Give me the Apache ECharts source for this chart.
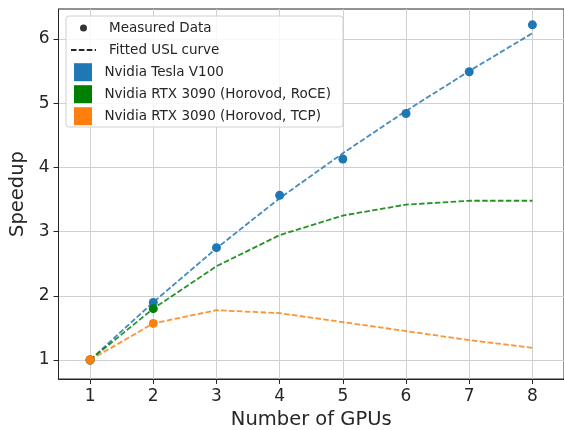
<!DOCTYPE html>
<html>
<head>
<meta charset="utf-8">
<script src="https://cdn.jsdelivr.net/npm/echarts@6/dist/echarts.min.js"></script>
<style>
  html, body { margin: 0; padding: 0; background: #fff; }
  #chart { width: 564px; height: 430px; }
</style>
</head>
<body>
<div id="chart"></div>
<script>
const gpus = [1, 2, 3, 4, 5, 6, 7, 8]
const xTicks = [1, 2, 3, 4, 5, 6, 7, 8]
const yTicks = [1, 2, 3, 4, 5, 6]

const v100Measured = [1.0, 1.895, 2.75, 3.565, 4.13, 4.84, 5.49, 6.22]
const roceMeasured = [1.0, 1.80]
const tcpMeasured = [1.0, 1.57]

const v100Fit = [1.0, 1.90, 2.74, 3.52, 4.22, 4.88, 5.50, 6.09]
const roceFit = [1.0, 1.80, 2.46, 2.945, 3.25, 3.42, 3.48, 3.48]
const tcpFit = [1.0, 1.57, 1.775, 1.73, 1.59, 1.45, 1.31, 1.19]

const names = ['Nvidia Tesla V100', 'Nvidia RTX 3090 (Horovod, RoCE)', 'Nvidia RTX 3090 (Horovod, TCP)']
const colors = ['#1f77b4', '#008000', '#ff7f0e']

const font = 'DejaVu Sans'
const pairs = (ys) => ys.map((y, i) => [gpus[i], y])

function fitSeries(name, color, ys) {
  return {
    name, type: 'line', data: pairs(ys), symbol: 'none', z: 3,
    itemStyle: { color },
    lineStyle: { color, width: 1.8, type: [5.5, 2.4], opacity: 0.85 },
  }
}

function measuredSeries(name, color, ys) {
  return {
    name, type: 'scatter', data: pairs(ys), symbolSize: 9, z: 4,
    itemStyle: { color, opacity: 1 },
  }
}

const chart = echarts.init(document.getElementById('chart'), null, { renderer: 'canvas' })

chart.setOption({
  animation: false,
  textStyle: { fontFamily: font },
  grid: {
    left: 58.5, top: 9, right: 0, bottom: 51,
    containLabel: false, outerBoundsMode: 'none',
    show: true, borderColor: '#262626', borderWidth: 1, backgroundColor: 'transparent',
  },
  xAxis: {
    type: 'value', min: 0.5, max: 8.5, splitNumber: 8,
    name: 'Number of GPUs', nameLocation: 'middle', nameGap: 29,
    nameTextStyle: { fontSize: 19.5, color: '#262626', fontFamily: font },
    axisLine: { show: true, lineStyle: { color: '#262626', width: 1 } },
    axisTick: { show: true, customValues: xTicks, length: 5, lineStyle: { color: '#262626' } },
    axisLabel: { customValues: xTicks, margin: 9, fontSize: 17, color: '#262626', fontFamily: font },
    splitLine: { show: true, lineStyle: { color: '#d0d0d0', width: 1 } },
  },
  yAxis: {
    type: 'value', min: 0.704, max: 6.467, splitNumber: 6,
    name: 'Speedup', nameLocation: 'middle', nameGap: 20,
    nameTextStyle: { fontSize: 19.5, color: '#262626', fontFamily: font },
    axisLine: { show: true, lineStyle: { color: '#262626', width: 1 } },
    axisTick: { show: true, customValues: yTicks, length: 5, lineStyle: { color: '#262626' } },
    axisLabel: { customValues: yTicks, margin: 9, fontSize: 17, color: '#262626', fontFamily: font },
    splitLine: { show: true, lineStyle: { color: '#d0d0d0', width: 1 } },
  },
  graphic: [{
    type: 'rect', z: 50,
    shape: { x: 66, y: 16, width: 277, height: 111, r: 3 },
    style: { fill: 'rgba(255,255,255,0.85)', stroke: '#d0d0d0', lineWidth: 1 },
  }],
  legend: [{
    left: 70, top: 17, orient: 'vertical', padding: 0, itemGap: 0,
    itemWidth: 25, itemHeight: 7, z: 60, selectedMode: false,
    textStyle: { fontSize: 13.5, lineHeight: 22, color: '#262626', fontFamily: font, padding: [0, 0, 0, 8] },
    data: [
      { name: 'Measured Data', icon: 'circle' },
      { name: 'Fitted USL curve', itemStyle: { opacity: 0 } },
    ],
  }, {
    left: 74, top: 61.2, orient: 'vertical', padding: 0, itemGap: 0,
    itemWidth: 25, itemHeight: 18, z: 60, selectedMode: false,
    textStyle: { fontSize: 13.5, lineHeight: 22, color: '#262626', fontFamily: font, padding: [0, 0, 0, 4] },
    data: names.map((n) => ({ name: n, icon: 'path://M0,0H10V10H0Z' })),
  }],
  series: [
    { name: 'Measured Data', type: 'scatter', data: [], itemStyle: { color: '#000' } },
    {
      name: 'Fitted USL curve', type: 'line', data: [], symbol: 'none',
      itemStyle: { color: '#262626' },
      lineStyle: { color: '#262626', width: 1.8, type: [5.5, 2.4] },
    },
    fitSeries(names[0], colors[0], v100Fit),
    fitSeries(names[1], colors[1], roceFit),
    fitSeries(names[2], colors[2], tcpFit),
    measuredSeries(names[0], colors[0], v100Measured),
    measuredSeries(names[1], colors[1], roceMeasured),
    measuredSeries(names[2], colors[2], tcpMeasured),
  ],
})
</script>
</body>
</html>
